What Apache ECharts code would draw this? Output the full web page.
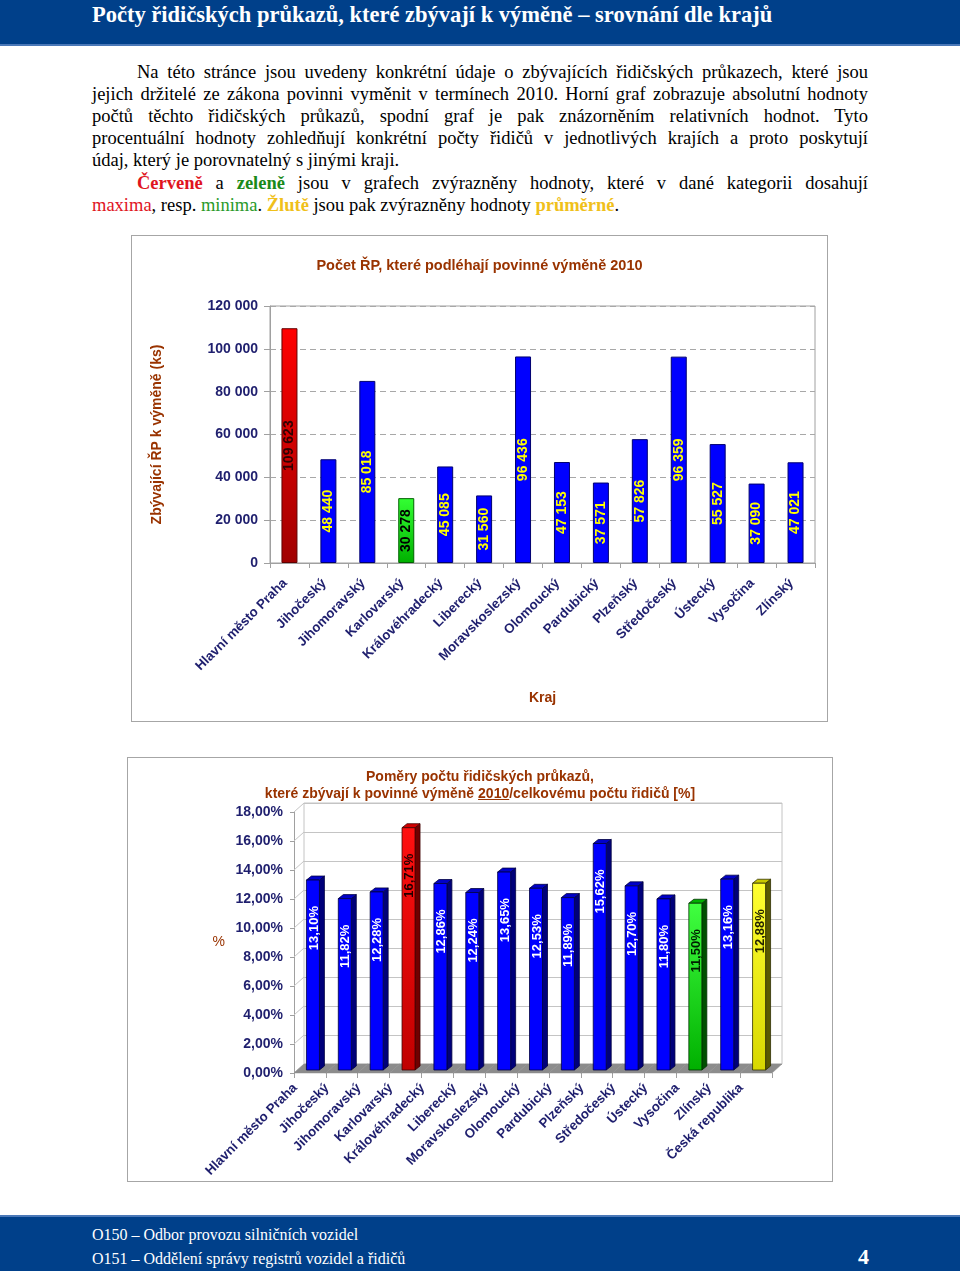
<!DOCTYPE html>
<html>
<head>
<meta charset="utf-8">
<script src="https://cdn.jsdelivr.net/npm/echarts@6/dist/echarts.min.js"></script>
<style>
html,body{margin:0;padding:0;width:960px;height:1271px;overflow:hidden;background:#fff;}
body{position:relative;font-family:"Liberation Serif","Times New Roman",serif;}
#hdr{position:absolute;left:0;top:0;width:960px;height:44px;background:#00408a;border-bottom:2px solid #4a78b8;}
#hdr div{position:absolute;left:92px;top:0;line-height:30px;font-size:22.5px;font-weight:bold;color:#fff;white-space:nowrap;}
.ln{position:absolute;font-size:18.5px;line-height:22px;color:#000;text-align:justify;text-align-last:justify;}
.ll{text-align:left;text-align-last:left;}
.red{color:#e0141e}
.grn{color:#1a8a1a}
.yel{color:#f0c01a}
#ftr{position:absolute;left:0;top:1215px;width:960px;height:56px;background:#00408a;border-top:2px solid #4a78b8;}
.ft{position:absolute;left:92px;color:#fff;font-size:16px;line-height:24px;white-space:nowrap;}
.box{position:absolute;border:1px solid #a6a6a6;box-sizing:border-box;background:#fff;}
.chart{position:absolute;left:0;top:0;}
#t2{position:absolute;left:0;width:100%;text-align:center;font-family:"Liberation Sans",Arial,sans-serif;font-weight:bold;font-size:14px;line-height:17px;color:#993300;top:10px;}
</style>
</head>
<body>
<div id="hdr"><div>Počty řidičských průkazů, které zbývají k výměně – srovnání dle krajů</div></div>

<div class="ln" style="left:137px;width:731px;top:61px">Na této stránce jsou uvedeny konkrétní údaje o zbývajících řidičských průkazech, které jsou</div>
<div class="ln" style="left:92px;width:776px;top:83px">jejich držitelé ze zákona povinni vyměnit v termínech 2010. Horní graf zobrazuje absolutní hodnoty</div>
<div class="ln" style="left:92px;width:776px;top:105px">počtů těchto řidičských průkazů, spodní graf je pak znázorněním relativních hodnot. Tyto</div>
<div class="ln" style="left:92px;width:776px;top:127px">procentuální hodnoty zohledňují konkrétní počty řidičů v&nbsp;jednotlivých krajích a proto poskytují</div>
<div class="ln ll" style="left:92px;width:776px;top:149px">údaj, který je porovnatelný s jinými kraji.</div>
<div class="ln" style="left:137px;width:731px;top:172px"><b class="red">Červeně</b> a <b class="grn">zeleně</b> jsou v&nbsp;grafech zvýrazněny hodnoty, které v&nbsp;dané kategorii dosahují</div>
<div class="ln ll" style="left:92px;width:776px;top:194px"><span class="red">maxima</span>, resp. <span class="grn" style="color:#2a9a2a">minima</span>. <b class="yel">Žlutě</b> jsou pak zvýrazněny hodnoty <b class="yel">průměrné</b>.</div>

<div class="box" style="left:131px;top:235px;width:697px;height:487px">
  <div id="c1" class="chart" style="width:695px;height:485px"></div>
</div>

<div class="box" style="left:127px;top:757px;width:706px;height:425px">
  <div id="c2" class="chart" style="width:704px;height:423px"></div>
  <div id="t2">Poměry počtu řidičských průkazů,<br>které zbývají k povinné výměně <u>2010</u>/celkovému počtu řidičů [%]</div>
</div>

<div id="ftr">
  <div class="ft" style="top:6px">O150 – Odbor provozu silničních vozidel</div>
  <div class="ft" style="top:30px">O151 – Oddělení správy registrů vozidel a řidičů</div>
  <div class="ft" style="left:858px;top:28px;font-size:22px;font-weight:bold">4</div>
</div>

<script>
// ---------- DATA ----------
const regions = ['Hlavní město Praha','Jihočeský','Jihomoravský','Karlovarský','Královéhradecký','Liberecký','Moravskoslezský','Olomoucký','Pardubický','Plzeňský','Středočeský','Ústecký','Vysočina','Zlínský'];
const counts = [109623, 48440, 85018, 30278, 45085, 31560, 96436, 47153, 37571, 57826, 96359, 55527, 37090, 47021];
const countTicks = [0, 20000, 40000, 60000, 80000, 100000, 120000];

const ratioCategories = regions.concat(['Česká republika']);
const ratios = [13.10, 11.82, 12.28, 16.71, 12.86, 12.24, 13.65, 12.53, 11.89, 15.62, 12.70, 11.80, 11.50, 13.16, 12.88];
const ratioTicks = [0, 2, 4, 6, 8, 10, 12, 14, 16, 18];

// ---------- STYLE ----------
const NAVY = '#1f1f6e';
const BROWN = '#993300';
const SANS = '"Liberation Sans", Arial, sans-serif';
const fmtSpace = v => String(v).replace(/\B(?=(\d{3})+(?!\d))/g, ' ');
const fmtPct = v => v.toFixed(2).replace('.', ',') + '%';

// ---------- CHART 1 ----------
const maxI1 = counts.indexOf(Math.max(...counts));
const minI1 = counts.indexOf(Math.min(...counts));
const grad = (a, b) => new echarts.graphic.LinearGradient(0, 0, 0, 1, [{offset: 0, color: a}, {offset: 1, color: b}]);

const c1 = echarts.init(document.getElementById('c1'), null, {renderer: 'canvas'});
c1.setOption({
  animation: false,
  title: {
    text: 'Počet ŘP, které podléhají povinné výměně 2010',
    left: 'center', top: 17,
    textStyle: {color: BROWN, fontFamily: SANS, fontWeight: 'bold', fontSize: 14.5}
  },
  grid: {left: 138, top: 70, width: 545, height: 257, show: true, borderColor: '#a0a0a0', borderWidth: 1, backgroundColor: 'transparent'},
  xAxis: {
    type: 'category', data: regions,
    axisLine: {lineStyle: {color: '#a0a0a0'}},
    axisTick: {show: true, length: 5, lineStyle: {color: '#a0a0a0'}},
    axisLabel: {interval: 0, rotate: 45, margin: 14, padding: [0, 6, 0, 0], color: NAVY, fontFamily: SANS, fontWeight: 'bold', fontSize: 13.3},
    name: 'Kraj', nameLocation: 'middle', nameGap: 128,
    nameTextStyle: {color: BROWN, fontFamily: SANS, fontWeight: 'bold', fontSize: 14}
  },
  yAxis: {
    type: 'value', min: countTicks[0], max: countTicks[countTicks.length - 1], interval: countTicks[1] - countTicks[0],
    axisLine: {show: true, lineStyle: {color: '#a0a0a0'}},
    axisTick: {show: true, length: 6, lineStyle: {color: '#a0a0a0'}},
    axisLabel: {margin: 12, color: NAVY, fontFamily: SANS, fontWeight: 'bold', fontSize: 14, formatter: fmtSpace},
    splitLine: {show: true, lineStyle: {color: '#a8a8a8', type: [6, 4]}},
    name: 'Zbývající ŘP k výměně (ks)', nameLocation: 'middle', nameGap: 106, nameRotate: 90,
    nameTextStyle: {color: BROWN, fontFamily: SANS, fontWeight: 'bold', fontSize: 14}
  },
  series: [{
    type: 'bar', barWidth: 16,
    data: counts.map((v, i) => {
      let color = '#0000ff', border = '#000070', lc = '#ffff00';
      if (i === maxI1) { color = grad('#ff0000', '#a00000'); border = '#600000'; lc = '#300000'; }
      if (i === minI1) { color = grad('#33ff33', '#00b000'); border = '#006000'; lc = '#000000'; }
      return {value: v, itemStyle: {color: color, borderColor: border, borderWidth: 1}, label: {color: lc}};
    }),
    label: {show: true, position: 'inside', rotate: 90, fontFamily: SANS, fontWeight: 'bold', fontSize: 14, formatter: p => fmtSpace(p.value)}
  }]
});

// ---------- CHART 2 (3D look) ----------
const regionRatios = ratios.slice(0, regions.length);
const maxI2 = ratios.indexOf(Math.max(...regionRatios));
const minI2 = ratios.indexOf(Math.min(...regionRatios));
const avgI2 = ratioCategories.length - 1;
const DX = 10, DY = -9;       // depth of the 3D box
const BW = 13, BDX = 5, BDY = -4, BOX = 3, BOY = -3; // bar front width, bar depth, bar offset

function barColors(i) {
  if (i === maxI2) return {front: grad('#ff1010', '#c00000'), side: '#700000', top: '#d00000', edge: '#400000', label: '#200000'};
  if (i === minI2) return {front: grad('#40ff40', '#00b000'), side: '#005000', top: '#00b000', edge: '#003000', label: '#002000'};
  if (i === avgI2) return {front: grad('#ffff30', '#d8d800'), side: '#5a5a00', top: '#c8c800', edge: '#303000', label: '#202000'};
  return {front: '#0000ff', side: '#00007a', top: '#0000c8', edge: '#000040', label: '#ffffff'};
}

const c2 = echarts.init(document.getElementById('c2'), null, {renderer: 'canvas'});
c2.setOption({
  animation: false,
  grid: [
    {left: 166, top: 54, width: 478, height: 261},
    {left: 166 + DX, top: 54 + DY, width: 478, height: 261, show: true, borderColor: '#c4c4c4', borderWidth: 1, backgroundColor: 'transparent'}
  ],
  xAxis: [{
    type: 'category', data: ratioCategories, gridIndex: 0,
    axisLine: {show: false},
    axisTick: {show: true, length: 5, lineStyle: {color: '#a0a0a0'}},
    axisLabel: {interval: 0, rotate: 45, margin: -2, padding: [0, 21, 0, 0], color: NAVY, fontFamily: SANS, fontWeight: 'bold', fontSize: 13.3}
  }, {
    type: 'category', data: ratioCategories, gridIndex: 1,
    axisLine: {show: false}, axisTick: {show: false}, axisLabel: {show: false}
  }],
  yAxis: [{
    type: 'value', gridIndex: 0, min: ratioTicks[0], max: ratioTicks[ratioTicks.length - 1], interval: ratioTicks[1] - ratioTicks[0],
    axisLine: {show: true, lineStyle: {color: '#a0a0a0'}},
    axisTick: {show: true, length: 4, lineStyle: {color: '#a0a0a0'}},
    axisLabel: {margin: 11, color: NAVY, fontFamily: SANS, fontWeight: 'bold', fontSize: 14, formatter: fmtPct},
    splitLine: {show: false},
    name: '%', nameLocation: 'middle', nameGap: 69, nameRotate: 0,
    nameTextStyle: {color: BROWN, fontFamily: SANS, fontSize: 14}
  }, {
    type: 'value', gridIndex: 1, min: ratioTicks[0], max: ratioTicks[ratioTicks.length - 1], interval: ratioTicks[1] - ratioTicks[0],
    axisLine: {show: false}, axisTick: {show: false}, axisLabel: {show: false},
    splitLine: {show: true, lineStyle: {color: '#c4c4c4'}}
  }],
  series: [
    { // side wall lines
      type: 'custom', xAxisIndex: 0, yAxisIndex: 0, z: 1, silent: true,
      data: ratioTicks.map(t => [0, t]),
      renderItem: (params, api) => {
        const p = api.coord([0, api.value(1)]);
        const half = api.size([1, 0])[0] / 2;
        const x = p[0] - half;
        return {type: 'line', shape: {x1: x, y1: p[1], x2: x + DX, y2: p[1] + DY}, style: {stroke: '#c4c4c4', lineWidth: 1}};
      }
    },
    { // floor
      type: 'custom', xAxisIndex: 0, yAxisIndex: 0, z: 2, silent: true,
      data: ratioCategories.map((c, i) => [i, 0]),
      renderItem: (params, api) => {
        const p = api.coord([api.value(0), 0]);
        const half = api.size([1, 0])[0] / 2;
        const x0 = p[0] - half, x1 = p[0] + half, y = p[1];
        return {type: 'polygon', shape: {points: [[x0, y], [x1, y], [x1 + DX, y + DY], [x0 + DX, y + DY]]},
                style: {fill: '#8c8c8c', stroke: '#8c8c8c', lineWidth: 0.5}};
      }
    },
    { // 3D bars
      type: 'custom', xAxisIndex: 0, yAxisIndex: 0, z: 3,
      data: ratios.map((v, i) => [i, v]),
      renderItem: (params, api) => {
        const i = api.value(0), v = api.value(1);
        const top = api.coord([i, v]);
        const base = api.coord([i, 0]);
        const col = barColors(i);
        const x = top[0] + BOX - BW / 2;
        const yt = top[1] + BOY, yb = base[1] + BOY;
        return {type: 'group', children: [
          {type: 'polygon', shape: {points: [[x + BW, yt], [x + BW + BDX, yt + BDY], [x + BW + BDX, yb + BDY], [x + BW, yb]]},
           style: {fill: col.side, stroke: col.edge, lineWidth: 0.8}},
          {type: 'polygon', shape: {points: [[x, yt], [x + BDX, yt + BDY], [x + BW + BDX, yt + BDY], [x + BW, yt]]},
           style: {fill: col.top, stroke: col.edge, lineWidth: 0.8}},
          {type: 'rect', shape: {x: x, y: yt, width: BW, height: yb - yt},
           style: {fill: col.front, stroke: col.edge, lineWidth: 0.8}},
          {type: 'text', x: x + BW / 2 + 1, y: yt + 26, rotation: Math.PI / 2,
           style: {text: fmtPct(v), fill: col.label, font: 'bold 13px ' + SANS, align: 'right', verticalAlign: 'middle'}}
        ]};
      }
    }
  ]
});
</script>
</body>
</html>
